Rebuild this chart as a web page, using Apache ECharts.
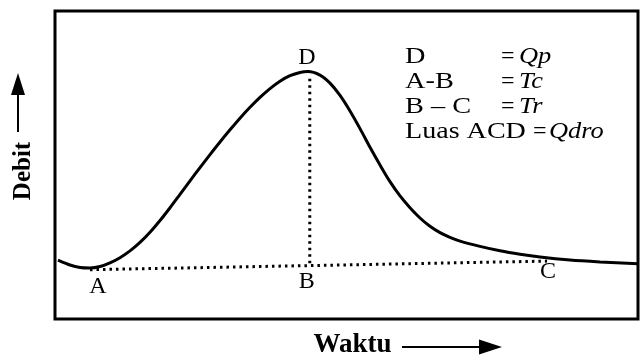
<!DOCTYPE html>
<html>
<head>
<meta charset="utf-8">
<script src="https://cdn.jsdelivr.net/npm/echarts@6/dist/echarts.min.js"></script>
<style>html,body{margin:0;padding:0;background:#fff}#c{width:641px;height:364px}</style>
</head>
<body>
<div id="c"></div>
<script>
// Hydrograph curve (time in % of window, discharge in % of frame height)
const hydroTime  = [0.51, 2.57, 4.29, 6.00, 7.72, 9.43, 11.15, 12.86, 14.58, 16.30, 18.01, 19.73, 21.44, 23.16, 24.87, 26.59, 28.30, 30.02, 31.73, 33.45, 35.16, 36.88, 38.59, 40.31, 42.02, 43.40, 45.45, 47.17, 48.89, 50.60, 52.32, 54.03, 55.75, 57.46, 59.18, 60.89, 62.61, 64.32, 66.04, 67.75, 69.47, 72.90, 76.33, 79.76, 83.19, 88.34, 93.48, 100];
const hydroDebit = [19.11, 17.52, 16.72, 16.56, 17.04, 18.23, 19.90, 22.10, 24.86, 28.15, 31.96, 36.13, 40.48, 44.86, 49.17, 53.38, 57.47, 61.43, 65.21, 68.73, 71.94, 74.81, 77.21, 79.00, 80.06, 80.35, 79.20, 76.58, 72.60, 67.55, 61.81, 55.75, 50.00, 44.59, 39.97, 36.15, 32.80, 30.10, 28.03, 26.50, 25.29, 23.57, 22.13, 21.02, 20.13, 19.17, 18.54, 17.90];

// Key points
const pointNames = ['A', 'B', 'C', 'D'];
const pointTime  = [6.0, 43.7, 84.4, 43.4];
const pointDebit = [16.2, 17.5, 18.8, 80.4];

// Dotted construction lines
const baseLineTime  = [6.0, 84.4];
const baseLineDebit = [16.0, 18.8];
const peakLineTime  = [43.7, 43.7];
const peakLineDebit = [78.0, 17.5];

// Legend text
const legendLeft  = ['D', 'A-B', 'B \u2013 C', 'Luas ACD'];
const legendRight = ['Qp', 'Tc', 'Tr', 'Qdro'];

const labelOffsets = [[8, 18], [-3, 17], [1, 11], [-1, -14]];

const serif = '"Liberation Serif", "Times New Roman", serif';
const zip = (a, b) => a.map((v, i) => [v, b[i]]);

const chart = echarts.init(document.getElementById('c'), null, {renderer: 'canvas'});

const graphics = [];
const rowY = [57, 82, 107, 132];
const txt = (t, x, y, italic, sx) => ({type: 'text', x: x, y: y, scaleX: sx || 1.18, z: 10,
  style: {text: t, font: (italic ? 'italic ' : '') + '24px ' + serif, fill: '#000',
          textVerticalAlign: 'middle', verticalAlign: 'middle'}});
legendLeft.forEach((t, i) => {
  graphics.push(txt(t, 405, rowY[i], false, i === 3 ? 1.17 : 1.18));
});
legendRight.forEach((t, i) => {
  const eqX = i < 3 ? 501 : 533;
  const tX = i < 3 ? 519 : 549;
  graphics.push(txt('=', eqX, rowY[i], false, 1.0));
  graphics.push(txt(t, tX, rowY[i], true, 1.1));
});
// axis arrows
graphics.push({type: 'line', shape: {x1: 18, y1: 132, x2: 18, y2: 92}, style: {stroke: '#000', lineWidth: 2}});
graphics.push({type: 'polygon', shape: {points: [[18, 73], [11, 95], [25, 95]]}, style: {fill: '#000'}});
graphics.push({type: 'line', shape: {x1: 402, y1: 347, x2: 482, y2: 347}, style: {stroke: '#000', lineWidth: 2}});
graphics.push({type: 'polygon', shape: {points: [[502, 347], [479, 339.5], [479, 354.5]]}, style: {fill: '#000'}});

const dotted = {color: '#000', width: 3, type: [2.5, 4]};

chart.setOption({
  backgroundColor: '#fff',
  animation: false,
  grid: {left: 55, right: 3, top: 11, bottom: 39, show: true, borderColor: '#000', borderWidth: 3, backgroundColor: 'transparent'},
  xAxis: {
    type: 'value', min: 0, max: 100,
    axisLine: {show: false}, axisTick: {show: false}, axisLabel: {show: false}, splitLine: {show: false},
    name: 'Waktu', nameLocation: 'middle', nameGap: 13,
    nameTextStyle: {fontFamily: serif, fontWeight: 'bold', fontSize: 27, color: '#000', padding: [0, 0, 0, 12]}
  },
  yAxis: {
    type: 'value', min: 0, max: 100,
    axisLine: {show: false}, axisTick: {show: false}, axisLabel: {show: false}, splitLine: {show: false},
    name: 'Debit', nameLocation: 'middle', nameRotate: 90, nameGap: 19,
    nameTextStyle: {fontFamily: serif, fontWeight: 'bold', fontSize: 25, color: '#000', padding: [0, 12, 0, 0]}
  },
  series: [
    {type: 'line', data: zip(hydroTime, hydroDebit), smooth: 0.3, symbol: 'none',
     lineStyle: {color: '#000', width: 3}, z: 3},
    {type: 'line', data: zip(baseLineTime, baseLineDebit), symbol: 'none', lineStyle: dotted, z: 2},
    {type: 'line', data: zip(peakLineTime, peakLineDebit), symbol: 'none', lineStyle: dotted, z: 2},
    {type: 'scatter', symbolSize: 1, itemStyle: {color: '#fff', opacity: 0}, z: 4, silent: true,
     data: pointNames.map((n, i) => ({
       name: n, value: [pointTime[i], pointDebit[i]],
       label: {show: true, formatter: '{b}', position: 'inside', offset: labelOffsets[i],
               align: 'center', verticalAlign: 'middle', opacity: 1, textBorderWidth: 0,
               fontFamily: serif, fontSize: 24, color: '#000'}
     }))}
  ],
  graphic: graphics
});
</script>
</body>
</html>
